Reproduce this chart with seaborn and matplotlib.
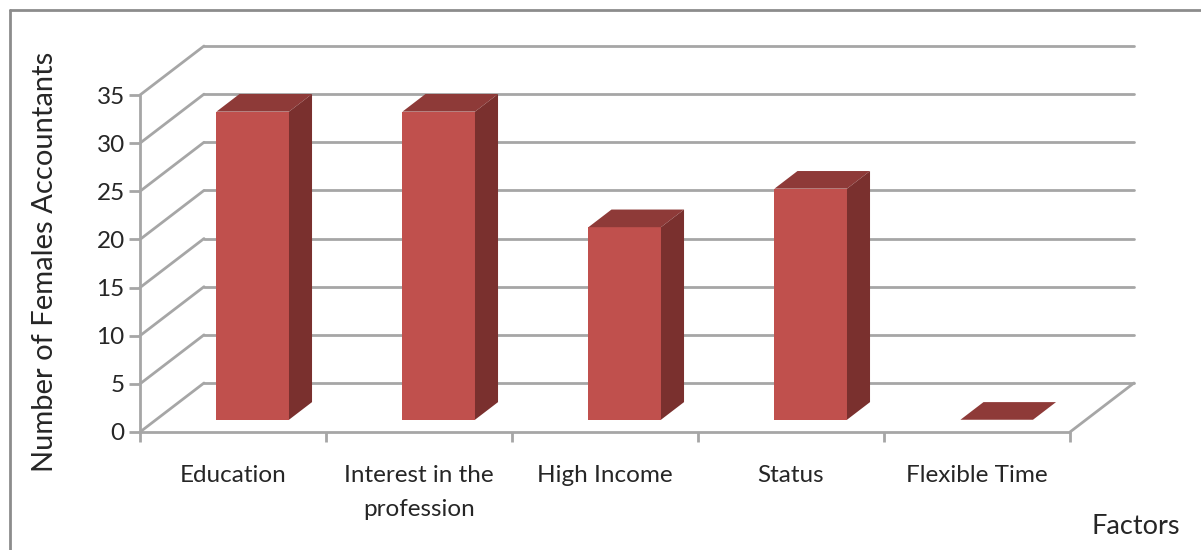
import numpy as np
import pandas as pd
import matplotlib
matplotlib.use("Agg")
import matplotlib.pyplot as plt
import seaborn as sns

# DATA
# ----
factors = ["Education", "Interest in the\nprofession", "High Income", "Status", "Flexible Time"]
females = [32, 32, 20, 24, 0]
y_ticks = [0, 5, 10, 15, 20, 25, 30, 35]

# STYLE
# -----
col_front = "#C0504D"
col_top = "#8E3A38"
col_side = "#7A302E"
col_grid = "#A6A6A6"
col_frame = "#8C8C8C"

sns.set_theme(style="white")
plt.rcParams["font.family"] = ["Lato", "DejaVu Sans"]

W_PX, H_PX = 1201, 550
fig = plt.figure(figsize=(W_PX / 100, H_PX / 100), dpi=100)

# front plane of the 3D box (pixels -> figure fraction)
x0, x1 = 140, 1070
y0, y1 = 432, 95
ax = fig.add_axes([x0 / W_PX, 1 - y0 / H_PX, (x1 - x0) / W_PX, (y0 - y1) / H_PX])

df = pd.DataFrame({"Factor": factors, "Count": females})
sns.barplot(data=df, x="Factor", y="Count", color=col_front, saturation=1,
            width=0.39, ax=ax, zorder=3)
ax.set_xlim(-0.5, len(factors) - 0.5)
ax.set_ylim(0, 35)

# depth of the floor in data units (oblique projection: +64px right, 49px up)
px_cat = (x1 - x0) / len(factors)
px_unit = (y0 - y1) / 35
ddx = 64 / px_cat
ddy = 49 / px_unit
f_front, f_back = 0.25, 0.61

# walls & grid
xl, xr = -0.5, len(factors) - 0.5
for k in y_ticks:
    ax.plot([xl + ddx, xr + ddx], [k + ddy, k + ddy], color=col_grid, lw=2, clip_on=False, zorder=1)
    ax.plot([xl, xl + ddx], [k, k + ddy], color=col_grid, lw=2, clip_on=False, zorder=1)
ax.plot([xl, xr], [0, 0], color=col_grid, lw=2, clip_on=False, zorder=2)
ax.plot([xr, xr + ddx], [0, ddy], color=col_grid, lw=2, clip_on=False, zorder=2)
ax.plot([xl, xl], [0, 35], color=col_grid, lw=2, clip_on=False, zorder=2)

# move front faces back into the box and add top / side faces
for bar, val in zip(ax.patches, females):
    bx, bw = bar.get_x(), bar.get_width()
    fx, fy = ddx * f_front, ddy * f_front
    bkx, bky = ddx * f_back, ddy * f_back
    bar.set_x(bx + fx + 0.02)
    bar.set_y(fy)
    bar.set_edgecolor("none")
    L, R = bx + fx + 0.02, bx + bw + fx + 0.02
    top = val + fy
    ax.fill([L, R, R + bkx - fx, L + bkx - fx], [top, top, val + bky, val + bky],
            color=col_top, lw=0, zorder=4, clip_on=False)
    if val > 0:
        ax.fill([R, R + bkx - fx, R + bkx - fx, R], [fy, bky, val + bky, top],
                color=col_side, lw=0, zorder=4, clip_on=False)
    bar.set_clip_on(False)

sns.despine(ax=ax, left=True, bottom=True)
ax.set_yticks(y_ticks)
ax.tick_params(axis="y", length=8, width=2, color=col_grid, pad=3, labelsize=17.5, left=True)
ax.set_xticks(range(len(factors)))
ax.set_xticklabels(factors, fontsize=17.5)
for lbl in ax.get_xticklabels():
    lbl.set_linespacing(1.75)
ax.set_xticks(np.arange(-0.5, len(factors)), minor=True)
ax.tick_params(axis="x", which="major", length=0, pad=24)
ax.tick_params(axis="x", which="minor", length=7, width=2, color=col_grid, bottom=True)
ax.set_xlabel("")
ax.set_ylabel("")
ax.grid(False)

fig.text(45 / W_PX, 1 - 262 / H_PX, "Number of Females Accountants", rotation=90,
         ha="center", va="center", fontsize=21)
fig.text(1136 / W_PX, 1 - 527 / H_PX, "Factors", ha="center", va="center", fontsize=19.5)

# chart frame (open at right/bottom like the cropped original)
fig.add_artist(plt.Line2D([10 / W_PX, 10 / W_PX], [0, 1 - 10 / H_PX], color=col_frame, lw=2))
fig.add_artist(plt.Line2D([10 / W_PX, 1], [1 - 10 / H_PX, 1 - 10 / H_PX], color=col_frame, lw=2))

fig.savefig("out.png", dpi=100)
